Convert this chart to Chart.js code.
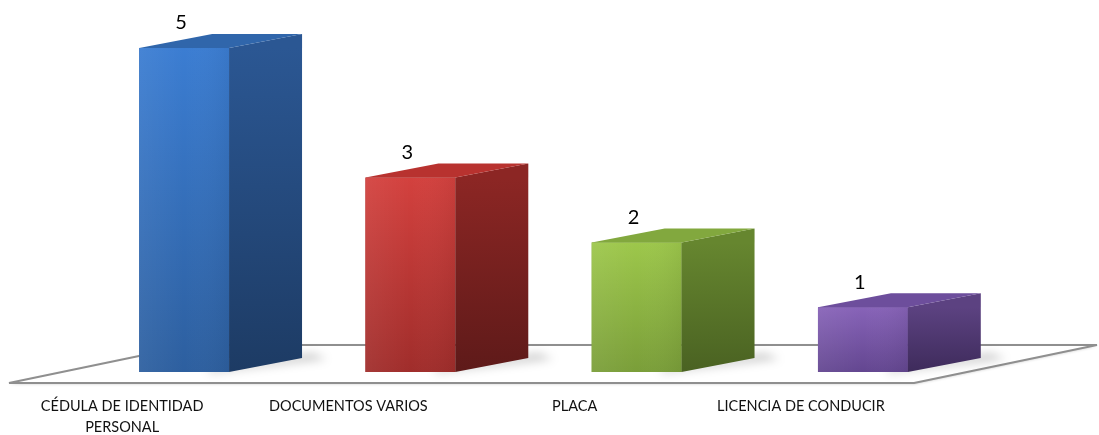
<!DOCTYPE html>
<html>
<head>
<meta charset="utf-8">
<script src="https://cdn.jsdelivr.net/npm/chart.js@4.4.1/dist/chart.umd.min.js"></script>
<style>
html, body { margin: 0; padding: 0; background: #fff; }
</style>
</head>
<body>
<canvas id="canvas" width="1099" height="435"></canvas>
<script>
// chart data
var categories = [["CÉDULA DE IDENTIDAD", "PERSONAL"], "DOCUMENTOS VARIOS", "PLACA", "LICENCIA DE CONDUCIR"];
var values = [5, 3, 2, 1];

// bar colours: front face (top/bottom), side face (top/bottom), top face
var frontLight = ["#3b7dd2", "#d3413e", "#9dc74b", "#8763b8"];
var frontDark = ["#2d5f9f", "#a02d2b", "#7a9e39", "#634690"];
var sideLight = ["#2b5793", "#8c2624", "#66862f", "#5c4281"];
var sideDark = ["#1d3b64", "#5e1a19", "#4a6222", "#3e2b5b"];
var topColor = ["#3066ab", "#b8322f", "#82a83e", "#6d4e9c"];

var DX = 73, DY = -14;          // bar depth
var FDX = 183, FDY = -38;       // floor depth
var LABEL_SHIFT = -62;          // category labels sit on the floor's front edge

var bars3d = {
    id: 'bars3d',
    beforeDatasetsDraw: function (chart) {
        var ctx = chart.ctx, a = chart.chartArea;
        var fy = a.bottom + 11;
        var fl = a.left + LABEL_SHIFT, fr = a.right + LABEL_SHIFT;
        ctx.save();
        // floor
        ctx.beginPath();
        ctx.moveTo(fl, fy);
        ctx.lineTo(fr, fy);
        ctx.lineTo(fr + FDX, fy + FDY);
        ctx.lineTo(fl + FDX, fy + FDY);
        ctx.closePath();
        ctx.fillStyle = '#ffffff';
        ctx.shadowColor = 'rgba(0,0,0,0.22)';
        ctx.shadowBlur = 3;
        ctx.shadowOffsetY = 1;
        ctx.fill();
        ctx.shadowColor = 'transparent';
        ctx.lineWidth = 2;
        ctx.lineJoin = 'bevel';
        ctx.strokeStyle = '#8f8f8f';
        ctx.stroke();
        // soft shadows of the bars on the floor
        var meta = chart.getDatasetMeta(0);
        meta.data.forEach(function (el) {
            var r = el.x + el.width / 2, b = el.base;
            ctx.save();
            ctx.filter = 'blur(5px)';
            ctx.fillStyle = 'rgba(0,0,0,0.2)';
            ctx.beginPath();
            ctx.moveTo(r - 20, b + 1);
            ctx.lineTo(r + DX + 25, b + DY + 1);
            ctx.lineTo(r + DX + 10, b + DY - 5);
            ctx.lineTo(r - 20, b - 4);
            ctx.closePath();
            ctx.fill();
            ctx.restore();
        });
        ctx.restore();
    },
    afterDatasetsDraw: function (chart) {
        var ctx = chart.ctx;
        var meta = chart.getDatasetMeta(0);
        ctx.save();
        meta.data.forEach(function (el, i) {
            var l = el.x - el.width / 2, r = el.x + el.width / 2;
            var t = el.y, b = el.base;
            // front face
            var g = ctx.createLinearGradient(0, t, 0, b);
            g.addColorStop(0, frontLight[i]);
            g.addColorStop(1, frontDark[i]);
            ctx.fillStyle = g;
            ctx.fillRect(l, t, r - l, b - t);
            var hl = ctx.createLinearGradient(l, 0, r, 0);
            hl.addColorStop(0, 'rgba(255,255,255,0.06)');
            hl.addColorStop(0.5, 'rgba(255,255,255,0)');
            hl.addColorStop(1, 'rgba(0,0,0,0.05)');
            ctx.fillStyle = hl;
            ctx.fillRect(l, t, r - l, b - t);
            // side face
            var gs = ctx.createLinearGradient(0, t, 0, b);
            gs.addColorStop(0, sideLight[i]);
            gs.addColorStop(1, sideDark[i]);
            ctx.fillStyle = gs;
            ctx.beginPath();
            ctx.moveTo(r, t);
            ctx.lineTo(r + DX, t + DY);
            ctx.lineTo(r + DX, b + DY);
            ctx.lineTo(r, b);
            ctx.closePath();
            ctx.fill();
            // top face
            ctx.fillStyle = topColor[i];
            ctx.beginPath();
            ctx.moveTo(l, t);
            ctx.lineTo(r, t);
            ctx.lineTo(r + DX, t + DY);
            ctx.lineTo(l + DX, t + DY);
            ctx.closePath();
            ctx.fill();
            // value label
            ctx.fillStyle = '#000';
            ctx.font = '20px Lato, "Open Sans", sans-serif';
            ctx.textAlign = 'center';
            ctx.textBaseline = 'middle';
            ctx.fillText(String(values[i]), el.x - 3, t - 25);
        });
        ctx.restore();
    }
};

var ctx = document.getElementById("canvas").getContext("2d");
window.DocsChart = new Chart(ctx, {
    type: 'bar',
    data: {
        labels: categories,
        datasets: [{
            data: values,
            backgroundColor: frontDark,
            borderWidth: 0,
            barPercentage: 0.397,
            categoryPercentage: 1
        }]
    },
    options: {
        responsive: false,
        animation: false,
        events: [],
        layout: {
            padding: { top: 48, left: 71, right: 123, bottom: 0 }
        },
        plugins: {
            legend: { display: false },
            tooltip: { enabled: false }
        },
        scales: {
            x: {
                grid: { display: false, drawTicks: false },
                border: { display: false },
                ticks: {
                    color: '#111',
                    font: { family: 'Lato, "Open Sans", sans-serif', size: 14.5, lineHeight: 1.45 },
                    labelOffset: LABEL_SHIFT,
                    padding: 24,
                    maxRotation: 0,
                    autoSkip: false
                },
                afterFit: function (scale) { scale.height = 63; }
            },
            y: {
                display: false,
                min: 0,
                max: 5
            }
        }
    },
    plugins: [bars3d]
});
</script>
</body>
</html>
